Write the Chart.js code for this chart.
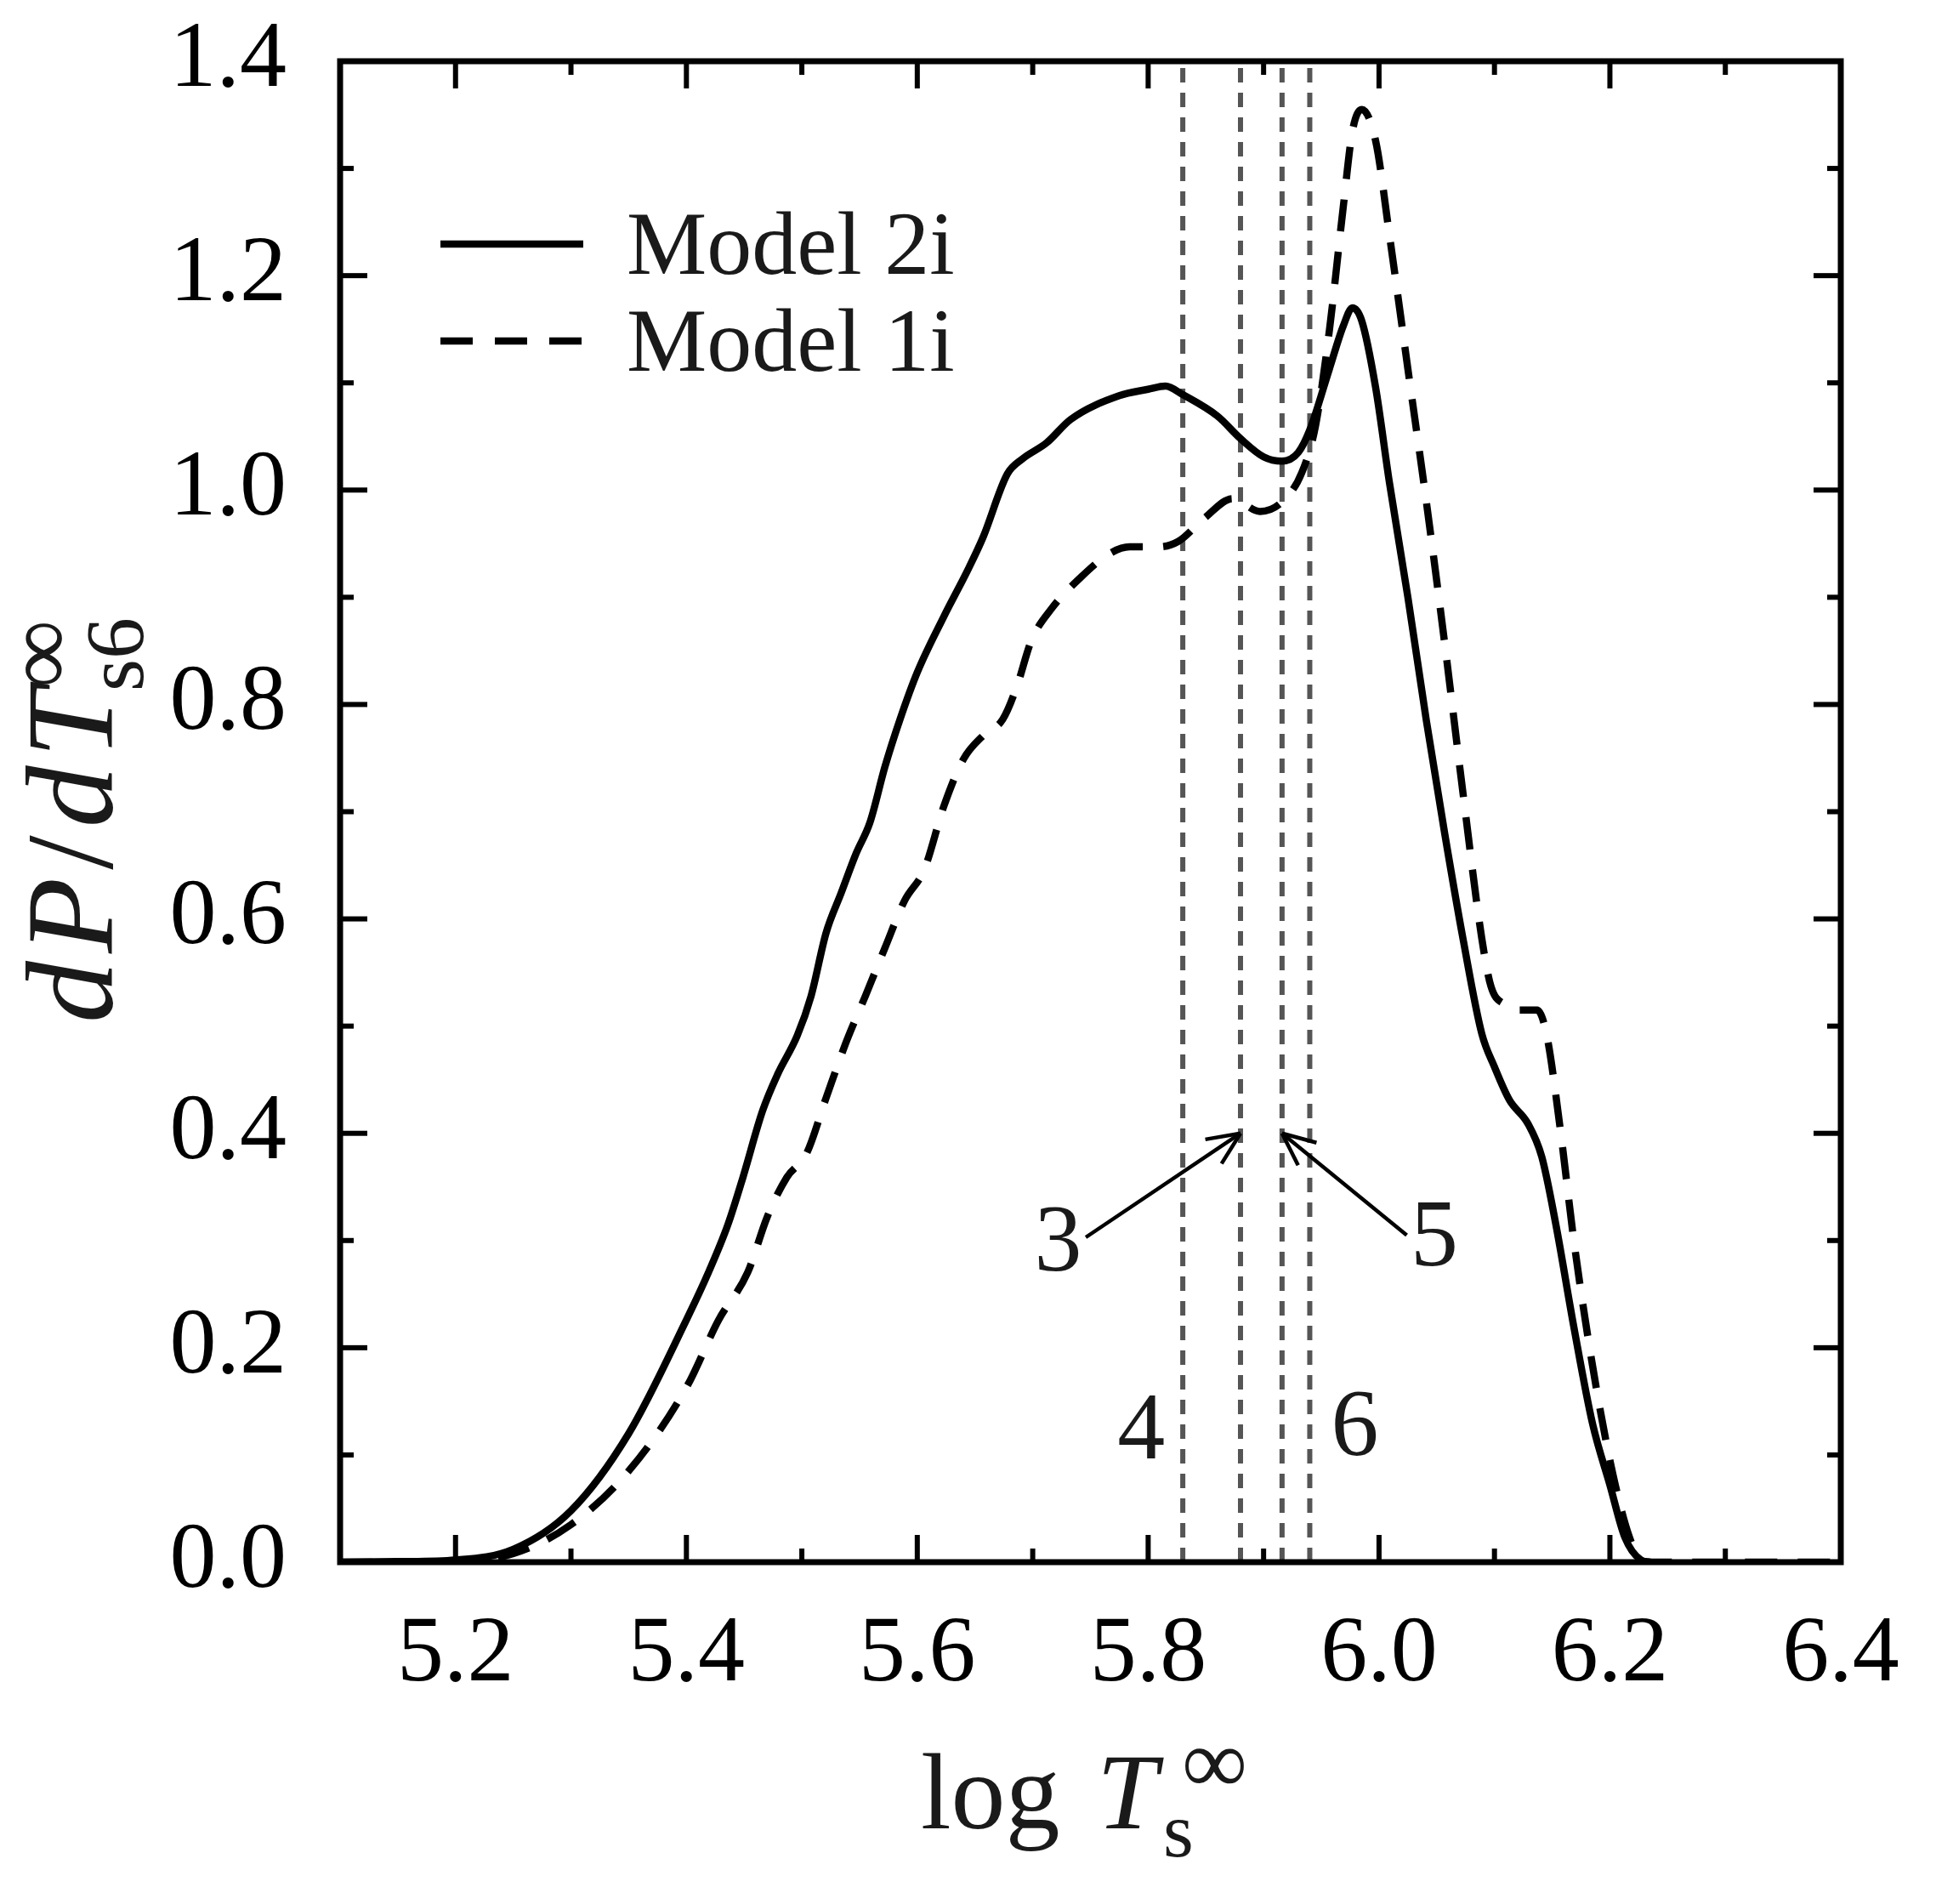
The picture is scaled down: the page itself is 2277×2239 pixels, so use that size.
<!DOCTYPE html>
<html lang="en">
<head>
<meta charset="UTF-8">
<title>dP/dT distribution</title>
<script src="https://cdn.jsdelivr.net/npm/chart.js"></script>
<style>
    html, body { margin: 0; padding: 0; background: #fff; }
    #wrap { width: 2277px; height: 2239px; }
</style>
</head>
<body>
<div id="wrap"><canvas id="distChart" width="2277" height="2239"></canvas></div>
<script>
// Model 2i (solid)
const model2iT = [5.10, 5.15, 5.20, 5.25, 5.30, 5.35, 5.40, 5.419, 5.436, 5.449, 5.466, 5.479, 5.496, 5.508, 5.521,
    5.534, 5.547, 5.559, 5.572, 5.585, 5.60, 5.623, 5.644, 5.657, 5.678, 5.691, 5.712, 5.733, 5.775, 5.80, 5.815,
    5.83, 5.86, 5.88, 5.90, 5.916, 5.93, 5.94, 5.957, 5.969, 5.977, 5.985, 5.997, 6.009, 6.025, 6.041, 6.057, 6.073,
    6.089, 6.10, 6.113, 6.129, 6.141, 6.153, 6.169, 6.185, 6.20, 6.213, 6.227, 6.235];
const model2iP = [0, 0.0005, 0.002, 0.012, 0.048, 0.12, 0.226, 0.27, 0.315, 0.359, 0.421, 0.455, 0.491, 0.528, 0.587,
    0.624, 0.661, 0.69, 0.742, 0.786, 0.83, 0.882, 0.926, 0.956, 1.015, 1.029, 1.044, 1.066, 1.088, 1.094, 1.097,
    1.089, 1.069, 1.048, 1.031, 1.027, 1.035, 1.056, 1.113, 1.153, 1.170, 1.158, 1.096, 1.007, 0.90, 0.785, 0.679, 0.58,
    0.493, 0.462, 0.431, 0.409, 0.378, 0.316, 0.218, 0.129, 0.072, 0.023, 0.002, 0];

// Model 1i (dashed)
const model1iT = [5.10, 5.20, 5.25, 5.30, 5.35, 5.40, 5.428, 5.453, 5.470, 5.487, 5.504, 5.521, 5.538, 5.555, 5.572,
    5.589, 5.606, 5.623, 5.640, 5.657, 5.674, 5.686, 5.699, 5.716, 5.742, 5.767, 5.784, 5.809, 5.826, 5.849, 5.873,
    5.897, 5.916, 5.933, 5.945, 5.957, 5.969, 5.977, 5.985, 5.997, 6.009, 6.025, 6.041, 6.057, 6.073, 6.089, 6.097,
    6.109, 6.121, 6.137, 6.145, 6.157, 6.169, 6.185, 6.201, 6.217, 6.229, 6.30, 6.40];
const model1iP = [0, 0.001, 0.008, 0.035, 0.085, 0.163, 0.226, 0.27, 0.322, 0.359, 0.381, 0.433, 0.484, 0.528, 0.573,
    0.617, 0.646, 0.705, 0.749, 0.771, 0.786, 0.816, 0.86, 0.889, 0.919, 0.941, 0.947, 0.947, 0.952, 0.974, 0.992,
    0.98, 0.989, 1.016, 1.06, 1.149, 1.264, 1.335, 1.355, 1.326, 1.238, 1.113, 0.989, 0.856, 0.715, 0.582, 0.537,
    0.52, 0.515, 0.515, 0.493, 0.404, 0.298, 0.183, 0.09, 0.023, 0, 0, 0];

// vertical dotted markers
const markerT = [5.83, 5.88, 5.916, 5.94];

// numbered labels and arrows
const noteText = ['3', '4', '5', '6'];
const noteT = [5.722, 5.794, 6.048, 5.979];
const noteP = [0.295, 0.12, 0.30, 0.123];
const arrowFromT = [5.746, 6.024];
const arrowFromP = [0.303, 0.305];
const arrowToT = [5.88, 5.916];
const arrowToP = [0.40, 0.40];

// axes
const xTickValues = [5.2, 5.4, 5.6, 5.8, 6.0, 6.2, 6.4];
const xMinorValues = [5.3, 5.5, 5.7, 5.9, 6.1, 6.3];
const yTickValues = [0.0, 0.2, 0.4, 0.6, 0.8, 1.0, 1.2, 1.4];
const yMinorValues = [0.1, 0.3, 0.5, 0.7, 0.9, 1.1, 1.3];

const SERIF = "'Liberation Serif', 'DejaVu Serif', serif";
const toPoints = (xs, ys) => xs.map((x, i) => ({ x: x, y: ys[i] }));

const datasets = [
    {
        label: 'Model 2i',
        data: toPoints(model2iT, model2iP),
        borderColor: '#000',
        borderWidth: 8.5,
        pointRadius: 0,
        cubicInterpolationMode: 'monotone',
        order: 1
    },
    {
        label: 'Model 1i',
        data: toPoints(model1iT, model1iP),
        borderColor: '#000',
        borderWidth: 8.5,
        borderDash: [38, 24],
        pointRadius: 0,
        cubicInterpolationMode: 'monotone',
        order: 1
    }
];
markerT.forEach(t => {
    datasets.push({
        label: 'marker',
        data: [{ x: t, y: 0 }, { x: t, y: 1.4 }],
        borderColor: '#555',
        borderWidth: 6,
        borderDash: [17, 12],
        pointRadius: 0,
        order: 2
    });
});

function line(ctx, x1, y1, x2, y2) {
    ctx.beginPath();
    ctx.moveTo(x1, y1);
    ctx.lineTo(x2, y2);
    ctx.stroke();
}

const decor = {
    id: 'decor',
    afterDatasetsDraw(chart) {
        const { ctx, chartArea: a } = chart;
        const x = chart.scales.x, y = chart.scales.y;
        ctx.save();

        // frame
        ctx.strokeStyle = '#000';
        ctx.lineWidth = 7;
        ctx.lineCap = 'square';
        ctx.strokeRect(a.left, a.top, a.right - a.left, a.bottom - a.top);

        // inward ticks on all four sides
        ctx.lineWidth = 6;
        ctx.lineCap = 'butt';
        const major = 32, minor = 16;
        xTickValues.concat(xMinorValues).forEach((v, i) => {
            const len = i < xTickValues.length ? major : minor;
            const px = x.getPixelForValue(v);
            line(ctx, px, a.bottom, px, a.bottom - len);
            line(ctx, px, a.top, px, a.top + len);
        });
        yTickValues.concat(yMinorValues).forEach((v, i) => {
            const len = i < yTickValues.length ? major : minor;
            const py = y.getPixelForValue(v);
            line(ctx, a.left, py, a.left + len, py);
            line(ctx, a.right, py, a.right - len, py);
        });

        // arrows
        ctx.lineWidth = 4.5;
        ctx.strokeStyle = '#000';
        arrowFromT.forEach((t, i) => {
            const x1 = x.getPixelForValue(t), y1 = y.getPixelForValue(arrowFromP[i]);
            const x2 = x.getPixelForValue(arrowToT[i]), y2 = y.getPixelForValue(arrowToP[i]);
            line(ctx, x1, y1, x2, y2);
            const ang = Math.atan2(y2 - y1, x2 - x1);
            const head = 42, spread = 0.42;
            line(ctx, x2, y2, x2 - head * Math.cos(ang - spread), y2 - head * Math.sin(ang - spread));
            line(ctx, x2, y2, x2 - head * Math.cos(ang + spread), y2 - head * Math.sin(ang + spread));
        });

        // numbered labels
        ctx.fillStyle = '#1a1a1a';
        ctx.font = '112px ' + SERIF;
        ctx.textAlign = 'center';
        ctx.textBaseline = 'middle';
        noteText.forEach((s, i) => {
            ctx.fillText(s, x.getPixelForValue(noteT[i]), y.getPixelForValue(noteP[i]));
        });

        // legend
        ctx.textAlign = 'left';
        ctx.textBaseline = 'alphabetic';
        ctx.font = '106px ' + SERIF;
        [datasets[0], datasets[1]].forEach((ds, i) => {
            const ly = 287 + i * 114;
            ctx.strokeStyle = ds.borderColor;
            ctx.lineWidth = ds.borderWidth;
            ctx.setLineDash(ds.borderDash ? [38, 26] : []);
            line(ctx, 518, ly, 686, ly);
            ctx.setLineDash([]);
            ctx.fillStyle = '#1a1a1a';
            ctx.fillText(ds.label, 737, ly + 35);
        });

        // x axis title: log T_s^inf
        ctx.fillStyle = '#1a1a1a';
        ctx.font = '128px ' + SERIF;
        ctx.fillText('log', 1083, 2150);
        ctx.font = 'italic 128px ' + SERIF;
        ctx.fillText('T', 1290, 2150);
        ctx.font = '108px ' + SERIF;
        ctx.fillText('\u221E', 1390, 2108);
        ctx.font = '92px ' + SERIF;
        ctx.fillText('s', 1368, 2183);

        // y axis title: dP/dT_s6^inf (rotated)
        ctx.save();
        ctx.translate(132, 1203);
        ctx.rotate(-Math.PI / 2);
        let cx = 0;
        const gap = 9;
        [['d', true], ['P', true], ['/', false], ['d', true], ['T', true]].forEach(([s, it]) => {
            ctx.font = (it ? 'italic ' : '') + '146px ' + SERIF;
            ctx.fillText(s, cx, 0);
            cx += ctx.measureText(s).width + gap;
        });
        ctx.font = '112px ' + SERIF;
        ctx.fillText('\u221E', cx - 8, -48);
        ctx.font = '98px ' + SERIF;
        ctx.fillText('s6', cx - 12, 36);
        ctx.restore();

        ctx.restore();
    }
};

new Chart(document.getElementById('distChart').getContext('2d'), {
    type: 'line',
    data: { datasets: datasets },
    options: {
        responsive: false,
        animation: false,
        devicePixelRatio: 1,
        layout: { padding: { left: 0, right: 112, top: 72, bottom: 0 } },
        plugins: { legend: { display: false }, tooltip: { enabled: false } },
        scales: {
            x: {
                type: 'linear',
                min: 5.1,
                max: 6.4,
                afterFit(s) { s.height = 402; s.paddingLeft = 0; s.paddingRight = 0; },
                afterBuildTicks(s) { s.ticks = xTickValues.map(v => ({ value: v })); },
                grid: { display: false, drawTicks: false },
                border: { display: false },
                ticks: {
                    autoSkip: false,
                    maxRotation: 0,
                    padding: 44,
                    color: '#000',
                    font: { family: SERIF, size: 110 },
                    callback: v => Number(v).toFixed(1)
                }
            },
            y: {
                type: 'linear',
                min: 0,
                max: 1.4,
                afterFit(s) { s.width = 400; s.paddingTop = 0; s.paddingBottom = 0; },
                afterBuildTicks(s) { s.ticks = yTickValues.map(v => ({ value: v })); },
                grid: { display: false, drawTicks: false },
                border: { display: false },
                ticks: {
                    autoSkip: false,
                    padding: 63,
                    color: '#000',
                    font: { family: SERIF, size: 110 },
                    callback: v => Number(v).toFixed(1)
                }
            }
        }
    },
    plugins: [decor]
});
</script>
</body>
</html>
